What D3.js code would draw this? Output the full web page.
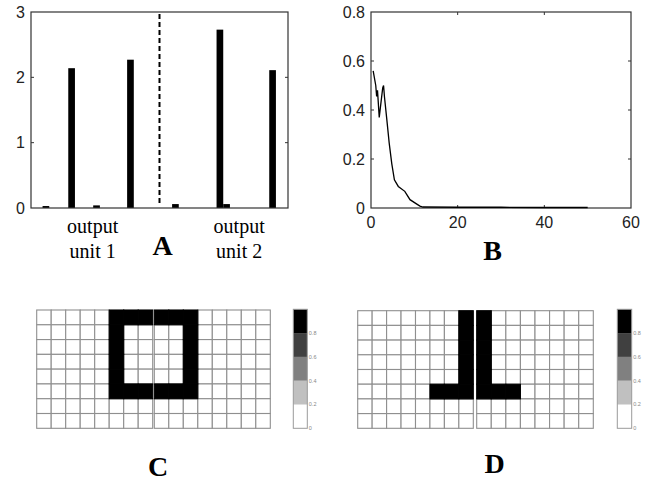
<!DOCTYPE html>
<html>
<head>
<meta charset="utf-8">
<script src="https://cdn.jsdelivr.net/npm/d3@7"></script>
<style>
  body { margin: 0; background: #fff; }
  .tick-label { font-family: "Liberation Sans", Arial, sans-serif; font-size: 16px; fill: #222; }
  .note { font-family: "Liberation Serif", "Times New Roman", serif; font-size: 20px; fill: #000; }
  .panel-letter { font-family: "Liberation Serif", "Times New Roman", serif; font-size: 28px; font-weight: bold; fill: #000; }
</style>
</head>
<body>
<svg id="fig" width="651" height="482"></svg>
<script>
// panel A: output activations (bar positions along the unit axis)
const barPos = [0.58, 1.58, 2.55, 3.87, 5.62, 7.35, 7.61, 9.4];
const barVal = [0.03, 2.14, 0.04, 2.27, 0.06, 2.73, 0.06, 2.11];
const aTicks = [0, 1, 2, 3];
const splitAt = 5;
const unitLabels = [["output", "unit 1"], ["output", "unit 2"]];
const unitLabelPos = [2.4, 8.1];

// panel B: error curve
const errX = [0.5, 1.1, 1.3, 1.5, 1.9, 2.7, 2.9, 3.1, 3.6, 4.2, 4.8, 5.4, 6.3, 7.8, 9, 10.4, 11.3, 12, 20, 30, 40, 50];
const errY = [0.56, 0.50, 0.455, 0.48, 0.37, 0.49, 0.50, 0.455, 0.37, 0.265, 0.18, 0.115, 0.088, 0.068, 0.034, 0.018, 0.008, 0.004, 0.003, 0.003, 0.002, 0.002];
const bxTicks = [0, 20, 40, 60];
const byTicks = [0, 0.2, 0.4, 0.6, 0.8];

// panels C and D: 8x8 weight maps, two per panel
const cLeft = [
  [0,0,0,0,0,1,1,1],
  [0,0,0,0,0,1,0,0],
  [0,0,0,0,0,1,0,0],
  [0,0,0,0,0,1,0,0],
  [0,0,0,0,0,1,0,0],
  [0,0,0,0,0,1,1,1],
  [0,0,0,0,0,0,0,0],
  [0,0,0,0,0,0,0,0]
];
const cRight = [
  [1,1,1,0,0,0,0,0],
  [0,0,1,0,0,0,0,0],
  [0,0,1,0,0,0,0,0],
  [0,0,1,0,0,0,0,0],
  [0,0,1,0,0,0,0,0],
  [1,1,1,0,0,0,0,0],
  [0,0,0,0,0,0,0,0],
  [0,0,0,0,0,0,0,0]
];
const dLeft = [
  [0,0,0,0,0,0,0,1],
  [0,0,0,0,0,0,0,1],
  [0,0,0,0,0,0,0,1],
  [0,0,0,0,0,0,0,1],
  [0,0,0,0,0,0,0,1],
  [0,0,0,0,0,1,1,1],
  [0,0,0,0,0,0,0,0],
  [0,0,0,0,0,0,0,0]
];
const dRight = [
  [1,0,0,0,0,0,0,0],
  [1,0,0,0,0,0,0,0],
  [1,0,0,0,0,0,0,0],
  [1,0,0,0,0,0,0,0],
  [1,0,0,0,0,0,0,0],
  [1,1,1,0,0,0,0,0],
  [0,0,0,0,0,0,0,0],
  [0,0,0,0,0,0,0,0]
];
const cbTicks = [0, 0.2, 0.4, 0.6, 0.8];
const greys = ["#ffffff", "#c0c0c0", "#808080", "#404040", "#000000"];

const svg = d3.select("#fig");
svg.append("rect").attr("width", 651).attr("height", 482).attr("fill", "#fff");

const axisColor = "#333";

// matlab style box with inward ticks on all sides
function box(g, x, y, xt, yt) {
  const [x0, x1] = x.range(), [y0, y1] = y.range();
  g.append("rect")
    .attr("x", x0).attr("y", y1)
    .attr("width", x1 - x0).attr("height", y0 - y1)
    .attr("fill", "none").attr("stroke", axisColor).attr("stroke-width", 1.2);
  const tl = 3;
  yt.forEach(v => {
    g.append("line").attr("x1", x0).attr("x2", x0 + tl).attr("y1", y(v)).attr("y2", y(v)).attr("stroke", axisColor);
    g.append("line").attr("x1", x1).attr("x2", x1 - tl).attr("y1", y(v)).attr("y2", y(v)).attr("stroke", axisColor);
  });
  xt.forEach(v => {
    g.append("line").attr("x1", x(v)).attr("x2", x(v)).attr("y1", y0).attr("y2", y0 - tl).attr("stroke", axisColor);
    g.append("line").attr("x1", x(v)).attr("x2", x(v)).attr("y1", y1).attr("y2", y1 + tl).attr("stroke", axisColor);
  });
}

// ---------- A ----------
const ax = d3.scaleLinear().domain([0, 10]).range([31, 288]);
const ay = d3.scaleLinear().domain([0, 3]).range([208, 12]);
const gA = svg.append("g");
const barW = 0.26;

gA.selectAll("rect.bar").data(barVal).join("rect")
  .attr("class", "bar")
  .attr("x", (d, i) => ax(barPos[i] - barW / 2))
  .attr("width", ax(barW) - ax(0))
  .attr("y", d => ay(d))
  .attr("height", d => ay(0) - ay(d))
  .attr("fill", "#000");

gA.append("line")
  .attr("x1", ax(splitAt)).attr("x2", ax(splitAt))
  .attr("y1", ay(2.97)).attr("y2", ay(0.05))
  .attr("stroke", "#000").attr("stroke-width", 2)
  .attr("stroke-dasharray", "5,3");

box(gA, ax, ay, [], aTicks.slice(1, -1));

gA.selectAll("text.yl").data(aTicks).join("text")
  .attr("class", "tick-label")
  .attr("x", 25).attr("y", d => ay(d))
  .attr("dy", "0.36em").attr("text-anchor", "end")
  .text(d => d);

unitLabels.forEach((lines, i) => {
  const t = gA.append("text").attr("class", "note").attr("text-anchor", "middle");
  lines.forEach((s, j) => {
    t.append("tspan").attr("x", ax(unitLabelPos[i])).attr("y", 233 + j * 25).text(s);
  });
});
gA.append("text").attr("class", "panel-letter").attr("x", 162.5).attr("y", 255).attr("text-anchor", "middle").text("A");

// ---------- B ----------
const bx = d3.scaleLinear().domain([0, 60]).range([371, 631]);
const by = d3.scaleLinear().domain([0, 0.8]).range([208, 12]);
const gB = svg.append("g");

box(gB, bx, by, bxTicks.slice(1, -1), byTicks.slice(1, -1));

gB.append("path")
  .datum(errX.map((x, i) => [x, errY[i]]))
  .attr("fill", "none").attr("stroke", "#000").attr("stroke-width", 1.3)
  .attr("d", d3.line().x(d => bx(d[0])).y(d => by(d[1])));

gB.selectAll("text.yl").data(byTicks).join("text")
  .attr("class", "tick-label")
  .attr("x", 365).attr("y", d => by(d))
  .attr("dy", "0.36em").attr("text-anchor", "end")
  .text(d => d === 0 ? "0" : d.toFixed(1));
gB.selectAll("text.xl").data(bxTicks).join("text")
  .attr("class", "tick-label")
  .attr("x", d => bx(d)).attr("y", 228)
  .attr("text-anchor", "middle")
  .text(d => d);
gB.append("text").attr("class", "panel-letter").attr("x", 492.5).attr("y", 260).attr("text-anchor", "middle").text("B");

// ---------- C / D ----------
const shade = d3.scaleQuantize().domain([0, 1]).range(greys);

function grid(g, m, x0, y0, w, h) {
  const cx = d3.scaleBand().domain(d3.range(8)).range([x0, x0 + w]);
  const cy = d3.scaleBand().domain(d3.range(8)).range([y0, y0 + h]);
  const cells = m.flatMap((row, r) => row.map((v, c) => ({ r, c, v })))
    .sort((a, b) => a.v - b.v); // dark cells on top so they cover the grid lines
  g.selectAll(null).data(cells).join("rect")
    .attr("x", d => cx(d.c)).attr("y", d => cy(d.r))
    .attr("width", cx.bandwidth()).attr("height", cy.bandwidth())
    .attr("fill", d => shade(d.v))
    .attr("stroke", d => d.v > 0.5 ? shade(d.v) : "#8f8f8f")
    .attr("stroke-width", 1.1);
}

function colorbar(g, x0, y0, w, h) {
  const cy = d3.scaleLinear().domain([0, 1]).range([y0 + h, y0]);
  const bands = d3.range(greys.length);
  g.selectAll(null).data(bands).join("rect")
    .attr("x", x0).attr("y", i => cy((i + 1) / greys.length))
    .attr("width", w).attr("height", i => cy(i / greys.length) - cy((i + 1) / greys.length))
    .attr("fill", i => greys[i]);
  g.append("rect").attr("x", x0).attr("y", y0).attr("width", w).attr("height", h)
    .attr("fill", "none").attr("stroke", "#9a9a9a");
  g.selectAll(null).data(cbTicks).join("text")
    .attr("x", x0 + w + 1.5).attr("y", d => cy(d))
    .attr("dy", "0.35em")
    .attr("font-family", "Liberation Sans, Arial, sans-serif")
    .attr("font-size", 5.5).attr("fill", "#888")
    .text(d => d === 0 ? "0" : d.toFixed(1));
}

const gC = svg.append("g");
grid(gC, cLeft, 36.7, 310, 116, 118.3);
grid(gC, cRight, 154.3, 310, 116, 118.3);
colorbar(gC, 293.3, 309.3, 14, 119);
gC.append("text").attr("class", "panel-letter").attr("x", 158).attr("y", 476).attr("text-anchor", "middle").text("C");

const gD = svg.append("g");
grid(gD, dLeft, 357.7, 310.7, 115.6, 117.6);
grid(gD, dRight, 476.7, 310.7, 116.6, 117.6);
colorbar(gD, 617.3, 309.3, 14.4, 119);
gD.append("text").attr("class", "panel-letter").attr("x", 494.5).attr("y", 473).attr("text-anchor", "middle").text("D");
</script>
</body>
</html>
